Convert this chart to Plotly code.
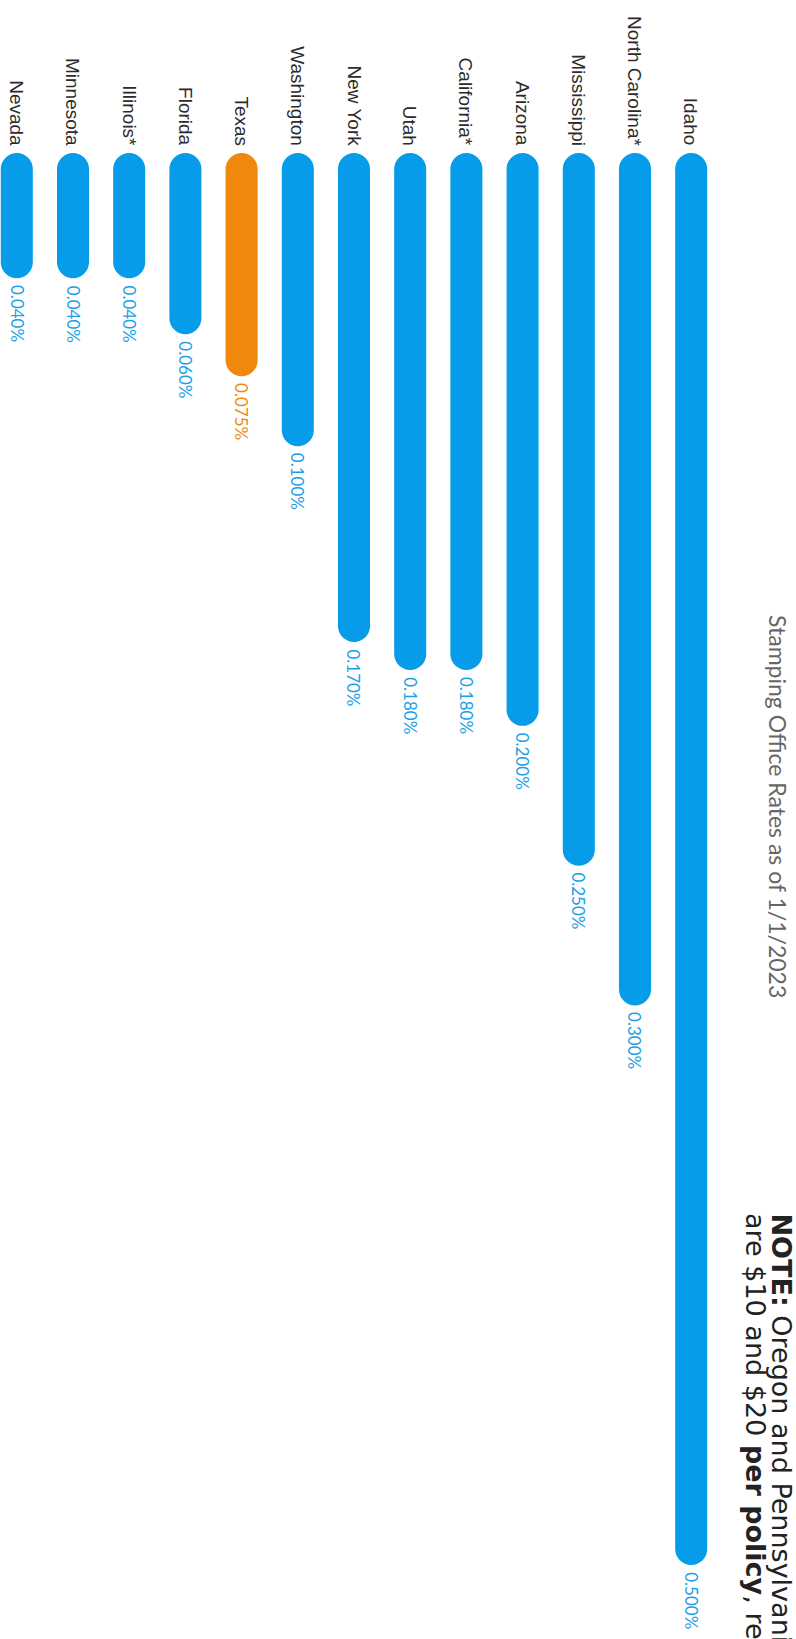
import plotly.graph_objects as go

# Stamping office rates (percent of premium) as of 1/1/2023
states = ["Nevada", "Minnesota", "Illinois*", "Florida", "Texas", "Washington",
          "New York", "Utah", "California*", "Arizona", "Mississippi",
          "North Carolina*", "Idaho"]
rates = [0.040, 0.040, 0.040, 0.060, 0.075, 0.100, 0.170, 0.180, 0.180,
         0.200, 0.250, 0.300, 0.500]
highlight = "Texas"

title_text = "Stamping Office Rates as of 1/1/2023"
note_lines = ["<b>NOTE:</b> Oregon and Pennsylvania stamping fees",
              "are $10 and $20 <b>per policy</b>, respectively."]

BLUE = "#079CEA"
ORANGE = "#EF880C"
LABEL_BLUE = "#1C9FE6"
LABEL_ORANGE = "#EE8A14"

W, H = 796, 1639
TOP_PX = 153          # pixel row where the bars start
PX_PER_UNIT = 2797    # pixels per 1 percentage point
CAP = 0.0048          # rounded lead-in above zero, in percent units

y_top = -TOP_PX / PX_PER_UNIT - CAP
y_bottom = (H - TOP_PX) / PX_PER_UNIT - CAP

bar_colors = [ORANGE if s == highlight else BLUE for s in states]
label_colors = [LABEL_ORANGE if s == highlight else LABEL_BLUE for s in states]

fig = go.Figure()
fig.add_bar(
    x=states,
    y=[r + CAP for r in rates],
    base=[-CAP] * len(rates),
    marker=dict(color=bar_colors, line=dict(width=0), cornerradius="50%"),
    hoverinfo="skip",
)

annotations = []
for s, r, c in zip(states, rates, label_colors):
    # state name above the bar
    annotations.append(dict(
        x=s, y=-CAP, xref="x", yref="y", text=s, showarrow=False,
        textangle=90, xanchor="center", yanchor="bottom", yshift=5,
        font=dict(family="Liberation Sans, Arial", size=19, color="#2b2b2b"),
    ))
    # value below the bar tip
    annotations.append(dict(
        x=s, y=r, xref="x", yref="y", text=f"{r:.3f}%", showarrow=False,
        textangle=90, xanchor="center", yanchor="top", yshift=-5,
        font=dict(family="Lato, Noto Sans", size=17, color=c),
    ))

annotations.append(dict(
    x=778 / W, y=1 - 806 / H, xref="paper", yref="paper", text=title_text,
    showarrow=False, textangle=90, xanchor="center", yanchor="middle",
    font=dict(family="Lato, Noto Sans", size=23, color="#666666"),
))

# two-line footnote, one annotation per line for tight spacing
for line, cx in zip(note_lines, [781, 756]):
    annotations.append(dict(
        x=cx / W, y=1 - 1212 / H, xref="paper", yref="paper", text=line,
        showarrow=False, textangle=90, xanchor="center", yanchor="top",
        borderpad=0,
        font=dict(family="DejaVu Sans, Lato", size=27, color="#222222"),
    ))

fig.update_layout(
    width=W, height=H,
    margin=dict(l=0, r=0, t=0, b=0),
    paper_bgcolor="white", plot_bgcolor="white",
    showlegend=False,
    bargap=0.43,
    xaxis=dict(range=[-0.299, 13.865], showticklabels=False, showgrid=False,
               zeroline=False, showline=False, ticks=""),
    yaxis=dict(range=[y_bottom, y_top], showticklabels=False, showgrid=False,
               zeroline=False, showline=False, ticks=""),
    annotations=annotations,
)

fig.write_html("out.html")
